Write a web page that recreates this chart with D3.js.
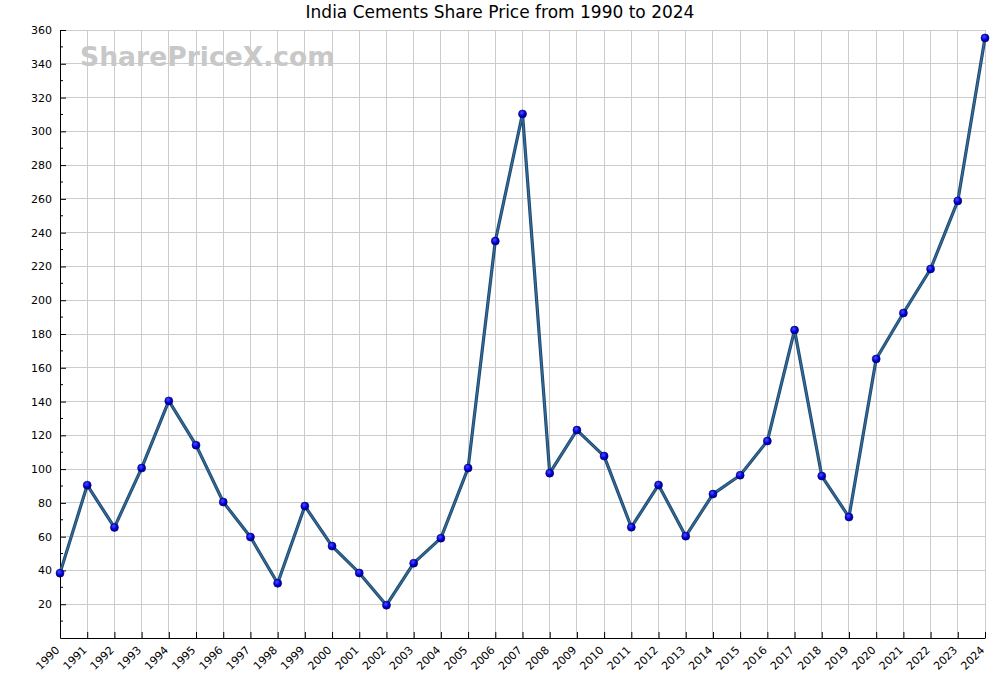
<!DOCTYPE html>
<html><head><meta charset="utf-8">
<script src="https://cdn.jsdelivr.net/npm/d3@7"></script>
<style>body{margin:0;background:#fff;} svg{display:block;}</style>
</head><body><svg id="c" width="1000" height="675"></svg>
<script>
const years = [1990,1991,1992,1993,1994,1995,1996,1997,1998,1999,2000,2001,2002,2003,2004,2005,2006,2007,2008,2009,2010,2011,2012,2013,2014,2015,2016,2017,2018,2019,2020,2021,2022,2023,2024];
const prices = [38.4,90.5,65.5,100.6,140.4,114.2,80.5,59.8,32.4,78.1,54.4,38.5,19.4,44.3,59.1,100.6,235,310.3,97.6,123.1,107.7,65.6,90.6,60.3,85.2,96.4,116.6,182.3,95.9,71.6,165.2,192.4,218.5,258.8,355.3];
const yTicks = [20,40,60,80,100,120,140,160,180,200,220,240,260,280,300,320,340,360];
const yMinor = d3.range(10,360,20);
const title = "India Cements Share Price from 1990 to 2024";
const watermark = "SharePriceX.com";

const svg = d3.select("#c");
const L=60,R=985,T=30,B=638;
const x = d3.scaleLinear().domain([1990,2024]).range([L,R]);
const y = d3.scaleLinear().domain([0,360]).range([B,T]);
const font = "DejaVu Sans, sans-serif";

const defs = svg.append("defs");
const g = defs.append("radialGradient").attr("id","mk").attr("cx","40%").attr("cy","35%").attr("r","65%");
g.append("stop").attr("offset","0%").attr("stop-color","#4d4dff");
g.append("stop").attr("offset","60%").attr("stop-color","#0000dd");
g.append("stop").attr("offset","100%").attr("stop-color","#00008a");

// grid
svg.append("g").selectAll("line").data(years).join("line")
  .attr("x1",d=>x(d)).attr("x2",d=>x(d)).attr("y1",T).attr("y2",B)
  .attr("stroke","#cccccc").attr("stroke-width",1).attr("shape-rendering","crispEdges");
svg.append("g").selectAll("line").data(yTicks).join("line")
  .attr("x1",L).attr("x2",R).attr("y1",d=>y(d)).attr("y2",d=>y(d))
  .attr("stroke","#cccccc").attr("stroke-width",1).attr("shape-rendering","crispEdges");

// watermark
svg.append("text").attr("x",80).attr("y",66).text(watermark)
  .attr("font-family",font).attr("font-weight","bold").attr("font-size",26.6).attr("fill","#c8c8c8");

// axes
const yAxis = d3.axisLeft(y).tickValues(yTicks).tickSizeInner(-6).tickSizeOuter(0).tickPadding(8);
const ya = svg.append("g").attr("transform",`translate(${L},0)`).call(yAxis);
ya.selectAll("text").attr("font-family",font).attr("font-size",11).attr("fill","#000");
ya.append("g").selectAll("line").data(yMinor).join("line")
  .attr("x1",0).attr("x2",3).attr("y1",d=>y(d)).attr("y2",d=>y(d)).attr("stroke","#000");
ya.select(".domain").attr("stroke","#000");

const xAxis = d3.axisBottom(x).tickValues(years).tickFormat(d3.format("d")).tickSizeInner(-6).tickSizeOuter(0);
const xa = svg.append("g").attr("transform",`translate(0,${B})`).call(xAxis);
xa.selectAll("text").attr("font-family",font).attr("font-size",11).attr("fill","#000")
  .attr("text-anchor","end").attr("y",0).attr("dy","0.35em").attr("dx","0")
  .attr("transform","translate(-3,10) rotate(-45)");
xa.select(".domain").attr("stroke","#000");

// line
const line = d3.line().x((d,i)=>x(years[i])).y(d=>y(d));
svg.append("path").datum(prices).attr("d",line).attr("fill","none")
  .attr("stroke","#1b4a72").attr("stroke-width",3.2).attr("stroke-linejoin","round");
svg.append("path").datum(prices).attr("d",line).attr("fill","none")
  .attr("stroke","#3a6d99").attr("stroke-width",1.2).attr("stroke-linejoin","round");

svg.append("g").selectAll("circle").data(prices).join("circle")
  .attr("cx",(d,i)=>x(years[i])).attr("cy",d=>y(d)).attr("r",4)
  .attr("fill","url(#mk)").attr("stroke","#00006a").attr("stroke-width",0.6);

// title
svg.append("text").attr("x",500).attr("y",18).attr("text-anchor","middle").text(title)
  .attr("font-family",font).attr("font-size",17).attr("fill","#000");
</script></body></html>
